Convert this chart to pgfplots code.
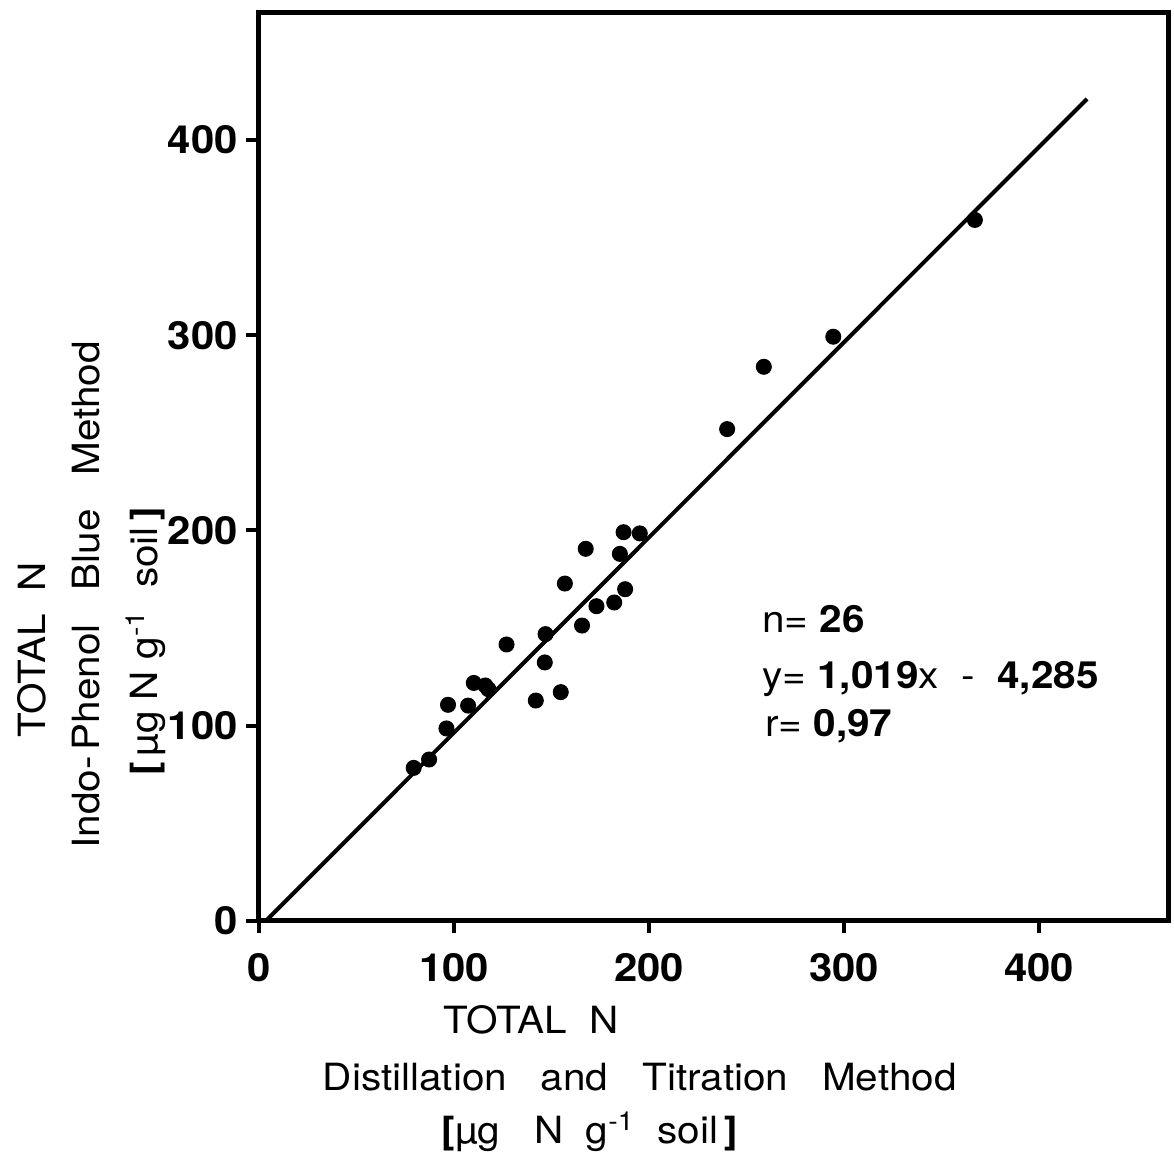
\documentclass[border=0pt]{standalone}
\usepackage{fontspec}
\setmainfont{TeX Gyre Heros}
\newfontfamily\wide[FakeStretch=1.08]{TeX Gyre Heros}
\usepackage{pgfplots}
\pgfplotsset{compat=1.18}
\begin{document}
\begin{tikzpicture}
\path[use as bounding box] (-103.6pt,-93.6pt) rectangle (366pt,368.4pt);
\begin{axis}[
 at={(0pt,0pt)}, anchor=south west,
 width=364pt, height=363.2pt, scale only axis,
 xmin=0, xmax=466.5, ymin=0, ymax=465,
 axis line style={line width=2pt},
 xtick={0,100,200,300,400}, ytick={0,100,200,300,400},
 tick align=outside, xtick pos=bottom, ytick pos=left,
 major tick length=5pt,
 every tick/.style={line width=1.6pt, black},
 tick label style={font=\wide\bfseries\fontsize{15.5}{18}\selectfont},
 xticklabel style={yshift=-4.5pt},
 /pgf/number format/assume math mode=true,
 clip=false,
]
\addplot[only marks, mark=*, mark size=3pt, black] coordinates {
(79.3,78.4) (87.2,82.7) (96.1,98.6) (96.9,110.7) (107.2,110.3)
(110.1,121.9) (117.6,118.7) (116.0,120.6) (126.9,141.6) (141.9,112.9)
(146.5,132.4) (146.9,146.9) (154.7,117.2) (156.8,172.8) (165.6,151.3)
(167.5,190.6) (173.0,161.2) (182.1,163.1) (187.7,169.9) (185.0,188.0)
(186.9,199.1) (195.2,198.5) (240.0,251.9) (258.8,283.8) (294.4,299.2)
(367.0,359.0)
};
\addplot[black, line width=1.6pt] coordinates {(3.5,0) (424.5,421)};
\node[font=\wide\fontsize{15}{18}\selectfont] at (axis cs:139.3,-50.8) {TOTAL\ \ N};
\node[font=\wide\fontsize{15}{18}\selectfont] at (axis cs:195.2,-80) {Distillation\ \ \ and\ \ \ Titration\ \ \ Method};
\node[font=\wide\fontsize{15}{18}\selectfont] at (axis cs:169.6,-108.2) {{\bfseries[}µg\ \ \ N\ \ g\textsuperscript{-1}\ \ soil\,{\bfseries]}};
\node[font=\wide\fontsize{15}{18}\selectfont, rotate=90] at (axis cs:-116.5,139) {TOTAL\ \ N};
\node[font=\wide\fontsize{15}{18}\selectfont, rotate=90] at (axis cs:-88.5,167) {Indo-\,Phenol\ \ \ Blue\ \ \ Method};
\node[font=\wide\fontsize{15}{18}\selectfont, rotate=90] at (axis cs:-58,143) {{\bfseries[}\,µg\ N\ g\textsuperscript{-1}\ \ soil\,{\bfseries]}};
\node[font=\wide\fontsize{15}{18}\selectfont, anchor=base west, inner sep=0pt] at (axis cs:257.7,147.9) {n=\ \textbf{26}};
\node[font=\wide\fontsize{15}{18}\selectfont, anchor=base west, inner sep=0pt] at (axis cs:257.7,119.2) {y=\ \textbf{1,019}x\ \ -\ \ \textbf{4,285}};
\node[font=\wide\fontsize{15}{18}\selectfont, anchor=base west, inner sep=0pt] at (axis cs:259.2,94.6) {r=\ \textbf{0,97}};
\end{axis}
\end{tikzpicture}
\end{document}
